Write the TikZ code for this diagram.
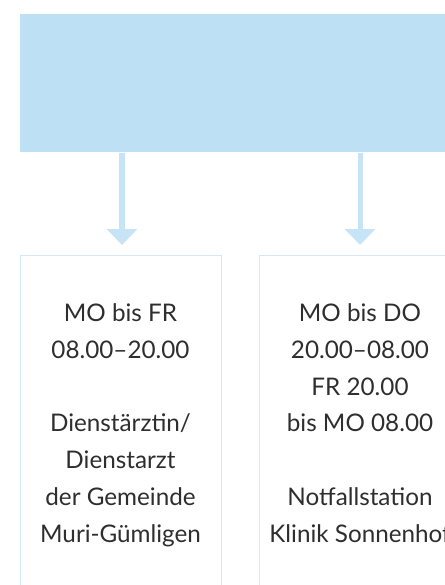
\documentclass[tikz,border=0pt]{standalone}
\usepackage{fontspec}
\setmainfont{Lato}
\usetikzlibrary{arrows.meta,positioning}
\definecolor{notdienst-blue}{HTML}{BDE0F5}
\definecolor{notdienst-arrow}{HTML}{C6E4F6}
\definecolor{notdienst-line}{HTML}{D4E9F8}
\definecolor{notdienst-text}{HTML}{2E2E2E}

\begin{document}
\begin{tikzpicture}[x=0.02cm, y=-0.02cm,
    headbox/.style={fill=notdienst-blue, draw=none, minimum width=13.6cm, minimum height=2.76cm, anchor=north west, inner sep=0pt},
    infobox/.style={draw=notdienst-line, line width=0.6pt, minimum width=4.02cm, minimum height=8cm, anchor=north west, inner sep=0pt},
    info/.style={text=notdienst-text, align=center, font=\fontsize{13.8}{21}\selectfont, inner sep=0pt, anchor=north},
    flow/.style={notdienst-arrow, line width=2.85pt, -{Triangle[width=17pt, length=9.1pt]}, shorten >=5.7pt}]
\useasboundingbox (0,0) rectangle (445,585);
\clip (0,0) rectangle (445,585);
\node[headbox] (head) at (20,14) {};
\node[infobox] (dayBox) at (20,255) {};
\node[infobox] (nightBox) at (259,255) {};
% Texte
\node[info] (dayText) at (120.5,303) {MO bis FR\\08.00–20.00\\[21pt]Dienstärztin/\\Dienstarzt\\der Gemeinde\\Muri-Gümligen};
\node[info] (nightText) at (360,303) {MO bis DO\\20.00–08.00\\FR 20.00\\bis MO 08.00\\[21pt]Notfallstation\\Klinik Sonnenhof};
% Pfeile
\draw[flow] (head.south -| 122,0) -- (dayBox.north -| 122,0);
\draw[flow] (head.south -| nightBox.north) -- (nightBox.north);
\end{tikzpicture}
\end{document}
